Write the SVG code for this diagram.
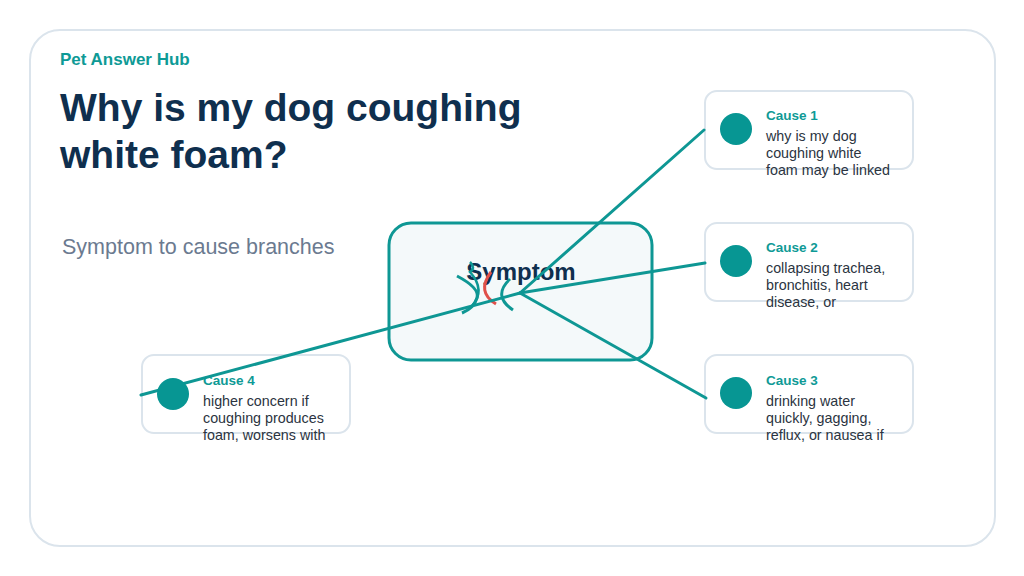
<svg xmlns="http://www.w3.org/2000/svg" width="1024" height="576" viewBox="0 0 1024 576">
<style>
.frame{fill:#ffffff;stroke:#dbe4ec;stroke-width:2}
.cbox{fill:#ffffff;stroke:#dbe4ec;stroke-width:2}
.dot{fill:#079693}
.ctitle{font-family:"Liberation Sans",Arial,sans-serif;font-size:13.5px;font-weight:bold;fill:#0e9a96}
.cbody{font-family:"Liberation Sans",Arial,sans-serif;font-size:14.3px;fill:#2b3441}
.conn{stroke:#0e9794;stroke-width:3;fill:none;stroke-linecap:round}
</style>
<rect x="0" y="0" width="1024" height="576" fill="#ffffff"/>
<rect class="frame" x="30" y="30" width="965" height="516" rx="30"/>
<text x="60" y="65" font-family="Liberation Sans,Arial,sans-serif" font-size="17" font-weight="bold" fill="#0e9a96">Pet Answer Hub</text>
<text font-family="Liberation Sans,Arial,sans-serif" font-size="39" font-weight="bold" fill="#0f2f4e"><tspan x="60" y="121">Why is my dog coughing</tspan><tspan x="60" y="168">white foam?</tspan></text>
<text x="62" y="254" font-family="Liberation Sans,Arial,sans-serif" font-size="21.5" fill="#6b7a90">Symptom to cause branches</text>
<g id="symptom">
<rect x="389" y="223" width="263" height="137" rx="22" fill="#f4f9fa" stroke="#0e9794" stroke-width="3"/>
<text x="521" y="280" text-anchor="middle" font-family="Liberation Sans,Arial,sans-serif" font-size="24" font-weight="bold" fill="#0f2f4e">Symptom</text>
<path d="M457 276 Q480 288 477 298 Q474 308 462 313" stroke="#0e9794" stroke-width="3" fill="none"/>
<path d="M470 262 Q476 268 470 272 Q486 290 472 306" stroke="#0e9794" stroke-width="2.5" fill="none"/>
<path d="M491 272 Q476 292 496 304" stroke="#e0504a" stroke-width="3" fill="none"/>
<path d="M510 279 Q492 296 513 310" stroke="#0e9794" stroke-width="3" fill="none"/>
</g>
<g id="cause1">
<rect class="cbox" x="705" y="91" width="208" height="78" rx="12"/>
<circle class="dot" cx="736" cy="129" r="16"/>
<text class="ctitle" x="766" y="120">Cause 1</text>
<text class="cbody"><tspan x="766" y="141">why is my dog</tspan><tspan x="766" y="158">coughing white</tspan><tspan x="766" y="175">foam may be linked</tspan></text>
</g>
<g id="cause2">
<rect class="cbox" x="705" y="223" width="208" height="78" rx="12"/>
<circle class="dot" cx="736" cy="261" r="16"/>
<text class="ctitle" x="766" y="252">Cause 2</text>
<text class="cbody"><tspan x="766" y="273">collapsing trachea,</tspan><tspan x="766" y="290">bronchitis, heart</tspan><tspan x="766" y="307">disease, or</tspan></text>
</g>
<g id="cause3">
<rect class="cbox" x="705" y="355" width="208" height="78" rx="12"/>
<circle class="dot" cx="736" cy="393" r="16"/>
<text class="ctitle" x="766" y="385">Cause 3</text>
<text class="cbody"><tspan x="766" y="406">drinking water</tspan><tspan x="766" y="423">quickly, gagging,</tspan><tspan x="766" y="440">reflux, or nausea if</tspan></text>
</g>
<g id="cause4">
<rect class="cbox" x="142" y="355" width="208" height="78" rx="12"/>
<text class="ctitle" x="203" y="385">Cause 4</text>
<text class="cbody"><tspan x="203" y="406">higher concern if</tspan><tspan x="203" y="423">coughing produces</tspan><tspan x="203" y="440">foam, worsens with</tspan></text>
</g>
<g id="connectors">
<line class="conn" x1="520" y1="293" x2="704" y2="130"/>
<line class="conn" x1="520" y1="293" x2="705" y2="263"/>
<line class="conn" x1="520" y1="293" x2="706" y2="398"/>
<line class="conn" x1="520" y1="293" x2="141" y2="395"/>
</g>
<g id="cause4-marker">
<circle class="dot" cx="173" cy="394" r="16"/>
</g>
</svg>
